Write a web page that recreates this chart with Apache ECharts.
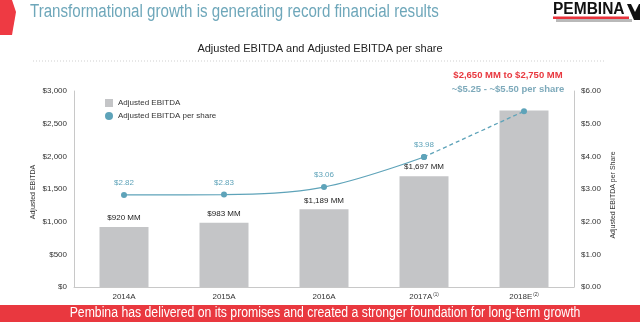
<!DOCTYPE html>
<html>
<head>
<meta charset="utf-8">
<script src="https://cdn.jsdelivr.net/npm/echarts@6/dist/echarts.min.js"></script>
<style>html,body{margin:0;padding:0;background:#fff}#c{width:640px;height:322px}</style>
</head>
<body>
<div id="c"></div>
<script>
var categories = ['2014A', '2015A', '2016A', '2017A', '2018E'];
var superscripts = ['', '', '', '(1)', '(2)'];
var ebitda = [920, 983, 1189, 1697, 2700];
var ebitdaLabels = ['$920 MM', '$983 MM', '$1,189 MM', '$1,697 MM', ''];
var perShare = [2.82, 2.83, 3.06, 3.98, 5.38];
var perShareLabels = ['$2.82', '$2.83', '$3.06', '$3.98', ''];
var leftTicks = [0, 500, 1000, 1500, 2000, 2500, 3000];
var rightTicks = [0, 1, 2, 3, 4, 5, 6];
var leftAxisName = 'Adjusted EBITDA';
var rightAxisName = 'Adjusted EBITDA per Share';

var FONT = '"Liberation Sans", Arial, sans-serif';
var LINE = '#5ea3b9';
var BAR = '#c4c5c7';

var solid = perShare.map(function (v, i) { return i <= 3 ? v : null; });
var dashed = perShare.map(function (v, i) { return i >= 3 ? v : null; });

var chart = echarts.init(document.getElementById('c'), null, { renderer: 'canvas' });
chart.setOption({
  animation: false,
  textStyle: { fontFamily: FONT },
  grid: { left: 74, right: 66, top: 91, bottom: 35 },
  legend: {
    left: 100, top: 94, orient: 'vertical', itemGap: 5, itemWidth: 8, itemHeight: 8,
    textStyle: { fontSize: 8, color: '#333', fontFamily: FONT },
    data: [
      { name: 'Adjusted EBITDA', icon: 'rect' },
      { name: 'Adjusted EBITDA per share', icon: 'circle' }
    ]
  },
  xAxis: {
    type: 'category', data: categories,
    axisLine: { lineStyle: { color: '#c8c8c8' } },
    axisTick: { show: false },
    axisLabel: {
      margin: 5, fontSize: 8, color: '#333',
      formatter: function (v, i) {
        return superscripts[i] ? '{a|' + v + '}{s|' + superscripts[i] + '}' : '{a|' + v + '}';
      },
      rich: {
        a: { fontSize: 8, lineHeight: 10, color: '#333', fontFamily: FONT },
        s: { fontSize: 4.5, lineHeight: 10, color: '#333', fontFamily: FONT, verticalAlign: 'top', padding: [0, 0, 0, 1] }
      }
    }
  },
  yAxis: [
    {
      type: 'value', min: 0, max: 3000, interval: 500,
      axisLine: { show: true, lineStyle: { color: '#c8c8c8' } },
      axisTick: { show: false }, splitLine: { show: false },
      axisLabel: { fontSize: 8, color: '#333', margin: 7,
        formatter: function (v) { return '$' + v.toLocaleString('en-US'); } }
    },
    {
      type: 'value', min: 0, max: 6, interval: 1,
      axisLine: { show: true, lineStyle: { color: '#c8c8c8' } },
      axisTick: { show: false }, splitLine: { show: false },
      axisLabel: { fontSize: 8, color: '#333', margin: 7,
        formatter: function (v) { return '$' + v.toFixed(2); } }
    }
  ],
  series: [
    {
      name: 'Adjusted EBITDA', type: 'bar', data: ebitda, barWidth: 49,
      itemStyle: { color: BAR },
      label: { show: true, position: 'top', distance: 5, fontSize: 8, color: '#222',
        formatter: function (p) { return ebitdaLabels[p.dataIndex]; } }
    },
    {
      name: 'Adjusted EBITDA per share', type: 'line', yAxisIndex: 1, data: solid,
      smooth: 0.35, symbol: 'circle', symbolSize: 6,
      lineStyle: { color: LINE, width: 1.3 }, itemStyle: { color: LINE },
      label: { show: true, position: 'top', distance: 5, fontSize: 8, color: LINE,
        formatter: function (p) { return perShareLabels[p.dataIndex]; } }
    },
    {
      name: 'Adjusted EBITDA per share', type: 'line', yAxisIndex: 1, data: dashed,
      smooth: 0.35, symbol: 'circle', symbolSize: 6,
      lineStyle: { color: LINE, width: 1.3, type: [4, 3] }, itemStyle: { color: LINE },
      label: { show: false }
    }
  ],
  graphic: [
    { type: 'polygon', shape: { points: [[0, 0], [12, 0], [16, 12], [12, 35], [0, 35]] }, style: { fill: '#ee3a43' } },
    { type: 'text', x: 30, y: 3, scaleX: 0.84, style: { text: 'Transformational growth is generating record financial results', fontSize: 18, fontFamily: FONT, fill: '#6ea7ba' } },
    { type: 'rect', shape: { x: 556, y: 19, width: 76, height: 3 }, style: { fill: '#b9b9b9' } },
    { type: 'rect', shape: { x: 553, y: 16.5, width: 76, height: 2.5 }, style: { fill: '#e8333b' } },
    { type: 'text', x: 553, y: 2, scaleX: 0.97, style: { text: 'PEMBINA', fontSize: 16, fontWeight: 'bold', fontFamily: FONT, fill: '#111' } },
    { type: 'polygon', shape: { points: [[627, 4], [631, 4], [635, 12], [639, 4], [640, 4], [640, 20], [634, 20]] }, style: { fill: '#111' } },
    { type: 'text', x: 320, y: 43, style: { text: 'Adjusted EBITDA and Adjusted EBITDA per share', fontSize: 11, fontFamily: FONT, fill: '#222', align: 'center' } },
    { type: 'line', shape: { x1: 33, y1: 61, x2: 606, y2: 61 }, style: { stroke: '#cfcfcf', lineWidth: 1, lineDash: [1, 2] } },
    { type: 'text', x: 508, y: 70, style: { text: '$2,650 MM to $2,750 MM', fontSize: 9.5, fontWeight: 'bold', fontFamily: FONT, fill: '#e8383f', align: 'center' } },
    { type: 'text', x: 508, y: 84, style: { text: '~$5.25 - ~$5.50 per share', fontSize: 9.5, fontWeight: 'bold', fontFamily: FONT, fill: '#7eaabb', align: 'center' } },
    { type: 'text', x: 33, y: 192, rotation: Math.PI / 2, style: { text: leftAxisName, fontSize: 7, fontFamily: FONT, fill: '#333', align: 'center', verticalAlign: 'middle' } },
    { type: 'text', x: 613, y: 195, rotation: Math.PI / 2, style: { text: rightAxisName, fontSize: 7, fontFamily: FONT, fill: '#333', align: 'center', verticalAlign: 'middle' } },
    { type: 'rect', shape: { x: 0, y: 305, width: 640, height: 17 }, style: { fill: '#e9383f' } },
    { type: 'text', x: 325, y: 306, scaleX: 0.875, style: { text: 'Pembina has delivered on its promises and created a stronger foundation for long-term growth', fontSize: 14, fontFamily: FONT, fill: '#fff', align: 'center' } }
  ]
});
</script>
</body>
</html>
